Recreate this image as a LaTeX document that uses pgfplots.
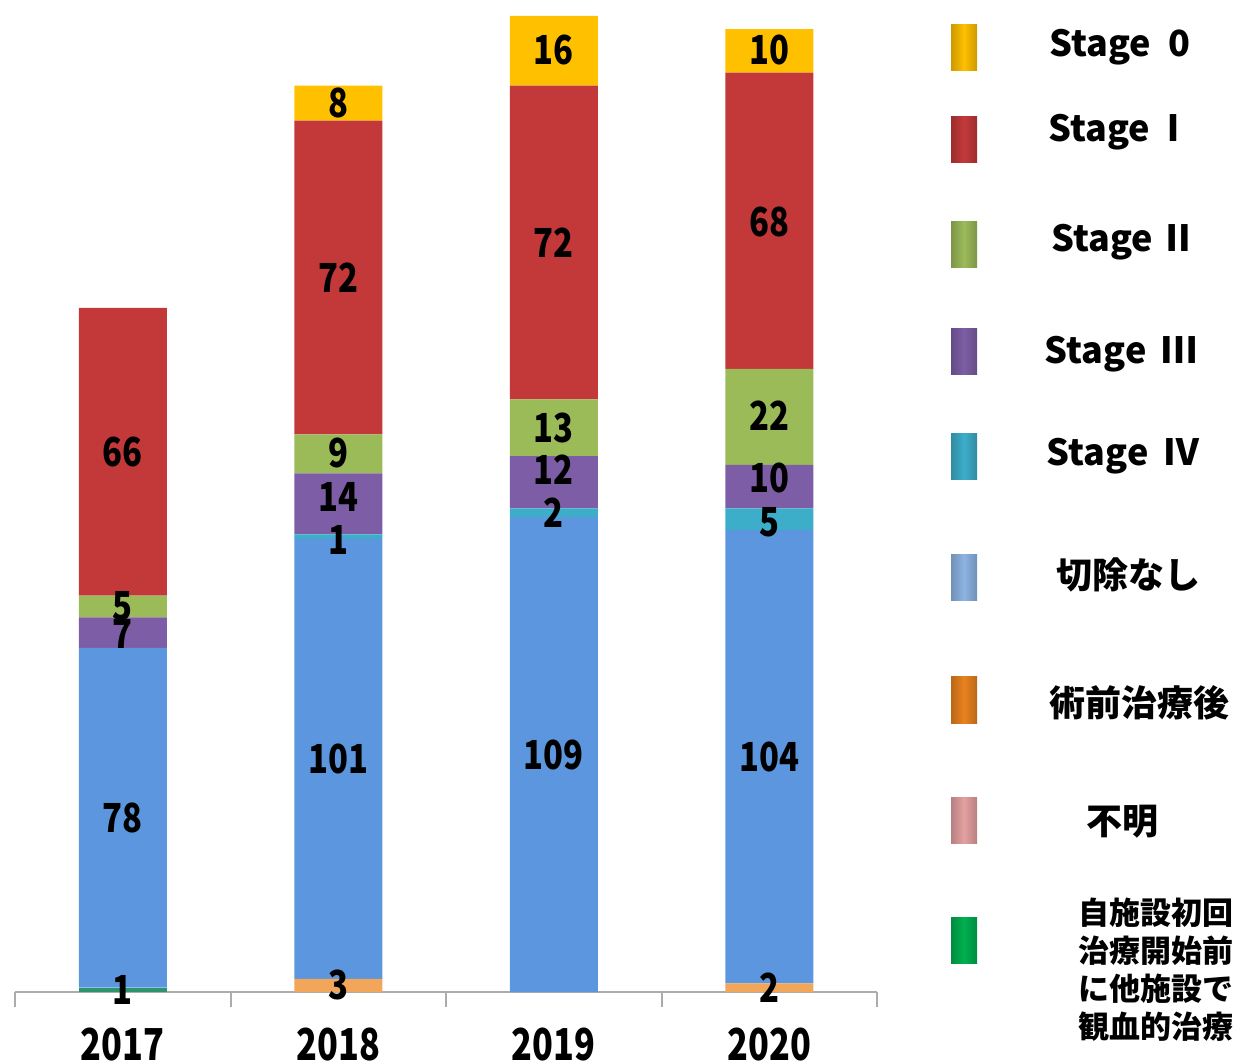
\documentclass[border=0pt]{standalone}
\usepackage{pgfplots}
\pgfplotsset{compat=1.18}
\usepackage{fontspec}
\setmainfont{Noto Sans CJK JP}
\newfontfamily\numfont[FakeStretch=0.82]{Noto Sans CJK JP}
\newfontfamily\yrfont[FakeStretch=0.78]{Noto Sans CJK JP}
\definecolor{cS0}{HTML}{FFC000}
\definecolor{cS1}{HTML}{C3393A}
\definecolor{cS2}{HTML}{9BBB59}
\definecolor{cS3}{HTML}{7D5EA6}
\definecolor{cS4}{HTML}{3DAECA}
\definecolor{cNo}{HTML}{5B96DE}
\definecolor{cNoL}{HTML}{8DB4E2}
\definecolor{cPre}{HTML}{F2A65A}
\definecolor{cPreL}{HTML}{E8821E}
\definecolor{cUnk}{HTML}{E4A0A0}
\definecolor{cOth}{HTML}{2E9470}
\definecolor{cOthL}{HTML}{00B050}
\pgfplotsset{
  segbar/.style={fill=#1, draw=none},
}
\begin{document}
\begin{tikzpicture}
\useasboundingbox (0,0) rectangle (619pt,531pt);
\begin{axis}[
  at={(7.5pt,35pt)}, anchor=south west, scale only axis,
  width=431pt, height=488pt,
  xmin=-0.5, xmax=3.5, ymin=0, ymax=224,
  ybar stacked, bar width=44pt,
  axis y line=none, axis x line*=bottom,
  x axis line style={draw=gray!65, line width=1pt},
  xtick={-0.5,0.5,1.5,2.5,3.5}, xticklabels={},
  tick align=outside, major tick length=7.5pt,
  x tick style={draw=gray!65, line width=1pt},
  clip=false,
]
\addplot[segbar=cOth] coordinates {(0,1) (1,0) (2,0) (3,0)};
\addplot[segbar=cUnk] coordinates {(0,0) (1,0) (2,0) (3,0)};
\addplot[segbar=cPre] coordinates {(0,0) (1,3) (2,0) (3,2)};
\addplot[segbar=cNo] coordinates {(0,78) (1,101) (2,109) (3,104)};
\addplot[segbar=cS4] coordinates {(0,0) (1,1) (2,2) (3,5)};
\addplot[segbar=cS3] coordinates {(0,7) (1,14) (2,12) (3,10)};
\addplot[segbar=cS2] coordinates {(0,5) (1,9) (2,13) (3,22)};
\addplot[segbar=cS1] coordinates {(0,66) (1,72) (2,72) (3,68)};
\addplot[segbar=cS0] coordinates {(0,0) (1,8) (2,16) (3,10)};
\foreach \x/\yr in {0/2017,1/2018,2/2019,3/2020}{
  \edef\tmp{\noexpand\node[font=\noexpand\yrfont\noexpand\bfseries\noexpand\fontsize{22}{22}\noexpand\selectfont] at (axis cs:\x,0) [yshift=-26.5pt] {\yr};}
  \tmp
}
\end{axis}
\begin{axis}[
  at={(7.5pt,35pt)}, anchor=south west, scale only axis,
  width=431pt, height=488pt,
  xmin=-0.5, xmax=3.5, ymin=0, ymax=224,
  hide axis, clip=false,
]
\addplot[only marks, mark size=0pt, point meta=explicit symbolic,
  nodes near coords, nodes near coords align=center,
  every node near coord/.append style={anchor=center, inner sep=0pt, text=black,
    font=\numfont\bfseries\fontsize{20}{20}\selectfont}]
  coordinates {
  (0,0.5)[1] (0,40)[78] (0,82.2)[7] (0,88.6)[5] (0,124)[66]
  (1,1.6)[3] (1,53.5)[101] (1,103.7)[1] (1,113.6)[14] (1,123.7)[9] (1,164)[72] (1,204)[8]
  (2,54.4)[109] (2,110)[2] (2,119.8)[12] (2,129.4)[13] (2,172)[72] (2,216.2)[16]
  (3,1)[2] (3,54)[104] (3,107.9)[5] (3,118)[10] (3,132.2)[22] (3,176.7)[68] (3,216.2)[10]
  };
\end{axis}
% legend
\foreach \yc/\cc in {507/cS0,461/cS1,408.5/cS2,355/cS3,302.5/cS4,242/cNoL,181/cPreL,121/cUnk,61/cOthL}{
  \shade[left color=\cc!80!black, right color=\cc!80!black, middle color=\cc]
    (475.5pt,\yc pt-11.5pt) rectangle (488.5pt,\yc pt+11.5pt);
}
\begin{scope}[every node/.style={font=\bfseries\fontsize{18}{18}\selectfont, inner sep=0pt}]
\node at (560pt,507.5pt) {Stage\hspace{0.5em}0};
\node at (560pt,465pt) {Stage\hspace{0.15em}Ⅰ};
\node at (562pt,410pt) {Stage\hspace{0.2em}Ⅱ};
\node at (560.5pt,354pt) {Stage\hspace{0.4em}Ⅲ};
\node at (561.5pt,303pt) {Stage\hspace{0.4em}Ⅳ};
\node at (564pt,243.5pt) {切除なし};
\node at (569.5pt,179.5pt) {術前治療後};
\node at (561pt,120pt) {不明};
\node[align=center, font=\bfseries\fontsize{15.5}{19}\selectfont] at (578pt,46pt) {自施設初回\\治療開始前\\に他施設で\\観血的治療};
\end{scope}
\end{tikzpicture}
\end{document}
